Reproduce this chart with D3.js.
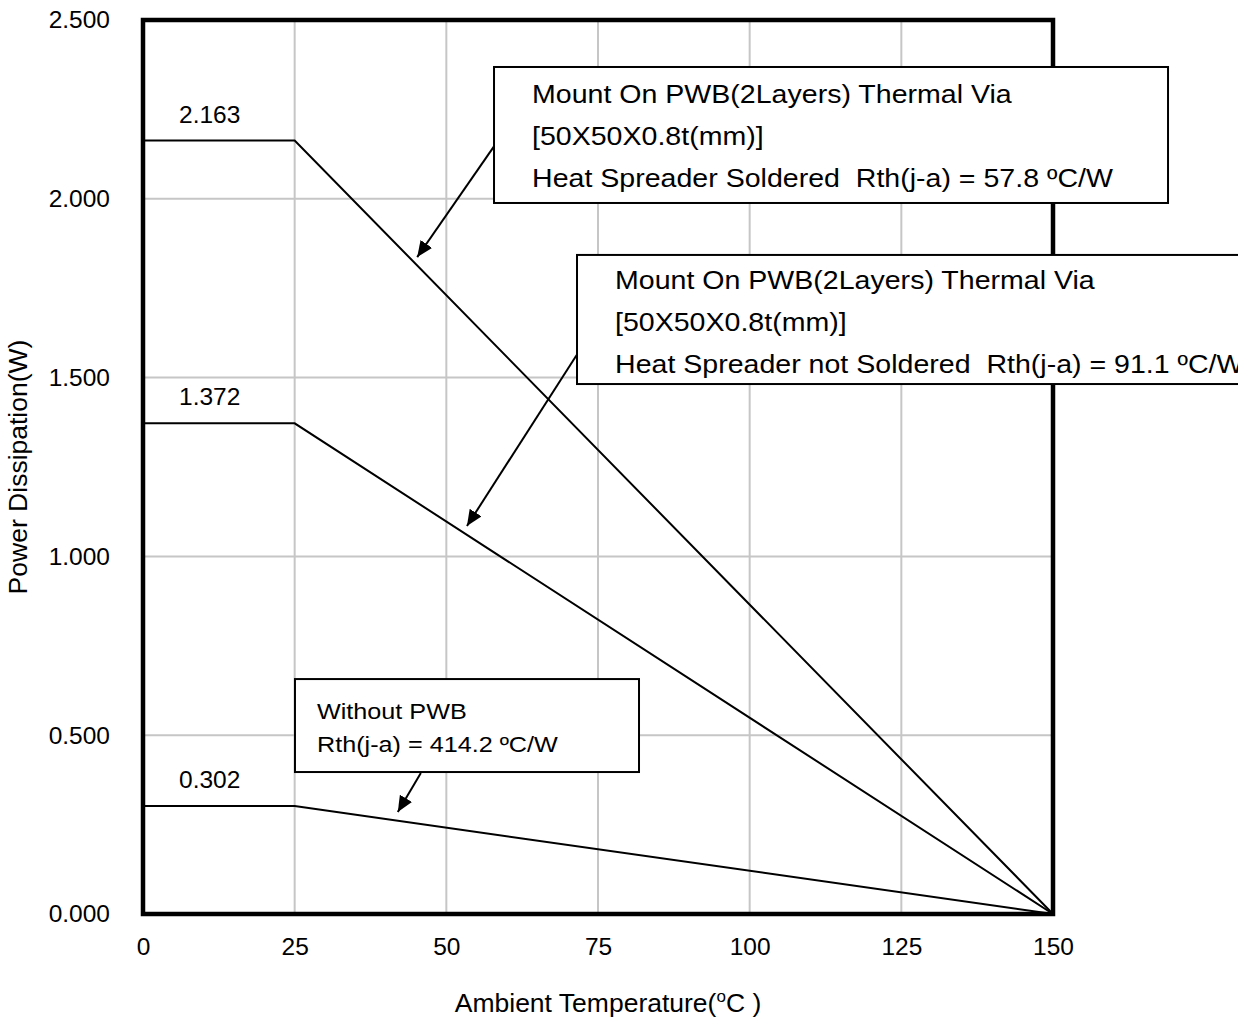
<!DOCTYPE html>
<html>
<head>
<meta charset="utf-8">
<script src="https://cdn.jsdelivr.net/npm/d3@7"></script>
<style>
html,body{margin:0;padding:0;background:#fff;}
svg text{font-family:Arial,"Liberation Sans",sans-serif;fill:#000;white-space:pre;}
</style>
</head>
<body>
<svg id="chart" width="1238" height="1020"></svg>
<script>
// ---- data ----
const xTicks = [0, 25, 50, 75, 100, 125, 150];
const yTicks = [0, 0.5, 1.0, 1.5, 2.0, 2.5];
const seriesNames = ["Soldered", "NotSoldered", "WithoutPWB"];
const tempPoints = [0, 25, 150];
const soldered = [2.163, 2.163, 0];
const notSoldered = [1.372, 1.372, 0];
const withoutPWB = [0.302, 0.302, 0];
const plateauLabels = ["2.163", "1.372", "0.302"];
const xTitle = "Ambient Temperature(";
const yTitle = "Power Dissipation(W)";
const box1Lines = ["Mount On PWB(2Layers) Thermal Via", "[50X50X0.8t(mm)]", "Heat Spreader Soldered  Rth(j-a) = 57.8 ºC/W"];
const box2Lines = ["Mount On PWB(2Layers) Thermal Via", "[50X50X0.8t(mm)]", "Heat Spreader not Soldered  Rth(j-a) = 91.1 ºC/W"];
const box3Lines = ["Without PWB", "Rth(j-a) = 414.2 ºC/W"];

// ---- layout ----
const svg = d3.select("#chart");
const x = d3.scaleLinear().domain([0, 150]).range([143, 1053]);
const y = d3.scaleLinear().domain([0, 2.5]).range([914, 20]);
const FONT = 'Arial,"Liberation Sans",sans-serif';
const tickFs = 24.5;

// grid
svg.append("g").selectAll("line").data(xTicks.slice(1, -1)).join("line")
  .attr("x1", d => x(d)).attr("x2", d => x(d)).attr("y1", y(0)).attr("y2", y(2.5))
  .attr("stroke", "#c6c6c6").attr("stroke-width", 2);
svg.append("g").selectAll("line").data(yTicks.slice(1, -1)).join("line")
  .attr("x1", x(0)).attr("x2", x(150)).attr("y1", d => y(d)).attr("y2", d => y(d))
  .attr("stroke", "#c6c6c6").attr("stroke-width", 2);

// axes labels via d3 axes (no lines)
const fmt = d3.format(".3f");
const gy = svg.append("g").attr("transform", `translate(${x(0)},0)`)
  .call(d3.axisLeft(y).tickValues(yTicks).tickFormat(fmt).tickSize(0).tickPadding(33));
const gx = svg.append("g").attr("transform", `translate(0,${y(0)})`)
  .call(d3.axisBottom(x).tickValues(xTicks).tickSize(0).tickPadding(24));
[gx, gy].forEach(g => {
  g.select(".domain").remove();
  g.selectAll("text").attr("font-size", tickFs).attr("font-family", FONT).attr("fill", "#000");
});

// series lines
const line = d3.line().x((d, i) => x(tempPoints[i])).y(d => y(d));
[soldered, notSoldered, withoutPWB].forEach((s, k) => {
  svg.append("path").attr("d", line(s)).attr("fill", "none")
    .attr("stroke", "#000").attr("stroke-width", 2).attr("class", seriesNames[k]);
});

// plateau labels
[soldered, notSoldered, withoutPWB].forEach((s, k) => {
  svg.append("text").attr("x", x(11)).attr("y", y(s[0]) - 18)
    .attr("text-anchor", "middle").attr("font-size", tickFs).text(plateauLabels[k]);
});

// plot frame
svg.append("rect").attr("x", x(0)).attr("y", y(2.5))
  .attr("width", x(150) - x(0)).attr("height", y(0) - y(2.5))
  .attr("fill", "none").attr("stroke", "#000").attr("stroke-width", 4.5);

// arrow marker
svg.append("defs").append("marker").attr("id", "ah")
  .attr("viewBox", "0 0 16 14").attr("refX", 16).attr("refY", 7)
  .attr("markerWidth", 16).attr("markerHeight", 14).attr("markerUnits", "userSpaceOnUse")
  .attr("orient", "auto")
  .append("path").attr("d", "M0,0 L16,7 L0,14 Z").attr("fill", "#000");

function arrow(x0, y0, x1, y1) {
  svg.append("line").attr("x1", x(x0)).attr("y1", y(y0)).attr("x2", x(x1)).attr("y2", y(y1))
    .attr("stroke", "#000").attr("stroke-width", 2).attr("marker-end", "url(#ah)");
}
function box(x0, y0, x1, y1, lines, fs, dx, base, gap, sx) {
  svg.append("rect").attr("x", x(x0)).attr("y", y(y0))
    .attr("width", x(x1) - x(x0)).attr("height", y(y1) - y(y0))
    .attr("fill", "#fff").attr("stroke", "#000").attr("stroke-width", 2);
  lines.forEach((t, i) => {
    svg.append("text")
      .attr("transform", `translate(${x(x0) + dx},${y(y0) + base + i * gap}) scale(${sx},1)`)
      .attr("font-size", fs).text(t);
  });
}

// annotations (data coordinates)
arrow(58.0, 2.150, 45.2, 1.837);
arrow(71.7, 1.569, 53.4, 1.085);
arrow(45.8, 0.394, 42.0, 0.285);
box(57.86, 2.3686, 168.96, 1.9883, box1Lines, 25.5, 38, 36, 42, 1.12);
box(71.54, 1.843, 186, 1.482, box2Lines, 25.5, 38, 34, 42, 1.12);
box(25.05, 0.657, 81.76, 0.397, box3Lines, 22.3, 22, 40, 33, 1.13);

// axis titles
const xt = svg.append("text").attr("x", 608).attr("y", 1012).attr("text-anchor", "middle").attr("font-size", 26.5);
xt.append("tspan").text(xTitle);
xt.append("tspan").attr("font-size", 17).attr("dy", -10).text("o");
xt.append("tspan").attr("dy", 10).text("C )");
svg.append("text").attr("transform", `translate(27,${(y(0) + y(2.5)) / 2}) rotate(-90)`)
  .attr("text-anchor", "middle").attr("font-size", 26.5).text(yTitle);
</script>
</body>
</html>
